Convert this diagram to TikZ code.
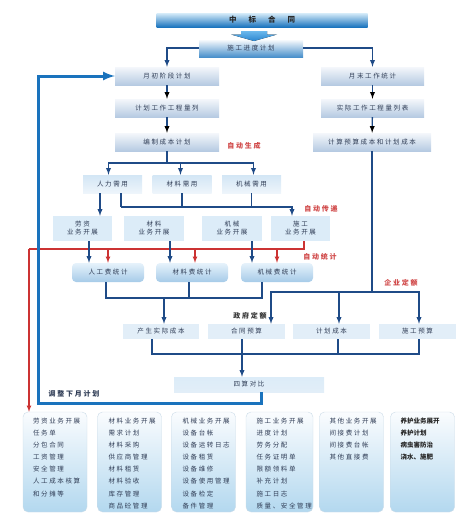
\documentclass[tikz,border=0pt]{standalone}
\usepackage{fontspec}
\setmainfont{Noto Sans CJK SC}
\newfontfamily\cjk[LetterSpace=25]{Noto Sans CJK SC}
\usetikzlibrary{positioning}

\definecolor{flowblue}{HTML}{1F4B87}
\definecolor{flowred}{HTML}{CC3333}
\definecolor{backblue}{HTML}{1A73BD}
\definecolor{txtgray}{HTML}{2F3C55}
\definecolor{bartop}{HTML}{D6ECF9}
\definecolor{barbot}{HTML}{1B74BE}
\definecolor{arrtop}{HTML}{6BB8EC}
\definecolor{arrbot}{HTML}{2A86D0}
\definecolor{plantop}{HTML}{F4F7FB}
\definecolor{planbot}{HTML}{B6CAE2}
\definecolor{needtop}{HTML}{D3E6F5}
\definecolor{needbot}{HTML}{EEF5FB}
\definecolor{workfill}{HTML}{DCECF8}
\definecolor{stattop}{HTML}{E6F2FB}
\definecolor{statbot}{HTML}{A6CBE8}
\definecolor{costfill}{HTML}{E2EEF8}
\definecolor{listtop}{HTML}{FAFCFE}
\definecolor{listbot}{HTML}{B3D8EF}
\definecolor{listedge}{HTML}{CCDCE8}
\definecolor{labred}{HTML}{D04848}

\tikzset{
  boxtext/.style={font=\cjk\fontsize{6.5}{8}\selectfont, text=txtgray, inner sep=0pt, align=center},
  barbox/.style={boxtext, top color=bartop, bottom color=barbot},
  planbox/.style={boxtext, top color=plantop, bottom color=planbot, minimum width=104pt, minimum height=18pt},
  needbox/.style={boxtext, top color=needtop, bottom color=needbot, minimum width=59pt, minimum height=18pt},
  workbox/.style={boxtext, fill=workfill, minimum width=60pt, minimum height=25pt},
  statbox/.style={boxtext, rounded corners=4pt, top color=stattop, bottom color=statbot, minimum width=72pt, minimum height=19pt},
  costbox/.style={boxtext, fill=costfill, minimum width=77pt, minimum height=15pt},
  listbox/.style={rounded corners=5pt, draw=listedge, top color=listtop, bottom color=listbot, minimum width=64pt, minimum height=100pt},
  listtext/.style={boxtext, align=left, anchor=north west, font=\cjk\fontsize{6.5}{12.1}\selectfont},
  flow/.style={draw=flowblue, line width=1.3pt},
  redflow/.style={draw=flowred, line width=1.1pt},
  note/.style={font=\cjk\bfseries\fontsize{7}{8}\selectfont, text=labred, inner sep=0pt}
}

\begin{document}
\begin{tikzpicture}[x=1pt, y=-1pt]
\useasboundingbox (0,0) rectangle (476,530);

% contract and schedule

\node[barbox, minimum width=211pt, minimum height=14pt, font=\bfseries\fontsize{7.5}{8}\selectfont, text=black!85] (zbht) at (262,20) {中\hspace{12pt}标\hspace{12pt}合\hspace{12pt}同};
\node[barbox, top color=white, bottom color=barbot!80, minimum width=104pt, minimum height=18pt] (sgjd) at (251,48) {施工进度计划};
\fill[top color=arrtop, bottom color=arrbot] (241,31) -- (267,31) -- (267,34.5) -- (277,34.5) -- (254,41) -- (231,34.5) -- (241,34.5) -- cycle;

% left line of boxes

\node[planbox] (ycjd) at (167,76) {月初阶段计划};
\node[planbox] (jhgcl) at (167,108) {计划工作工程量列};
\node[planbox] (bzcb) at (167,142) {编制成本计划};

% right line of boxes

\node[planbox, minimum width=103pt] (ymgz) at (372.5,76) {月末工作统计};
\node[planbox, minimum width=103pt] (sjgcl) at (372.5,108) {实际工作工程量列表};
\node[planbox, minimum width=118pt] (jsys) at (372,142) {计算预算成本和计划成本};

% needs and business

\node[needbox] (rlxy) at (112.5,184) {人力需用};
\node[needbox] (clxy) at (182,184) {材料需用};
\node[needbox] (jxxy) at (251.5,184) {机械需用};

\node[workbox, minimum width=59pt] (lzyw) at (82.5,228.5) {劳资\\业务开展};
\node[workbox] (clyw) at (154,228.5) {材料\\业务开展};
\node[workbox] (jxyw) at (232,228.5) {机械\\业务开展};
\node[workbox, minimum width=59pt] (sgyw) at (300.5,228.5) {施工\\业务开展};

% statistics

\node[statbox] (rgtj) at (108,272.5) {人工费统计};
\node[statbox] (cltj) at (192,272.5) {材料费统计};
\node[statbox] (jxtj) at (277,272.5) {机械费统计};

% four costs

\node[costbox, minimum width=76pt] (scsj) at (161,331.5) {产生实际成本};
\node[costbox] (htys) at (246.5,331.5) {合同预算};
\node[costbox] (jhcb) at (331.5,331.5) {计划成本};
\node[costbox] (sgys) at (417.5,331.5) {施工预算};
\node[costbox, minimum width=150pt, fill=none, top color=workfill, bottom color=costfill] (sscb) at (249,384.5) {四算对比};

% bottom lists

\node[listbox] (lzlist) at (55,462) {};
\node[listbox] (cllist) at (129.5,462) {};
\node[listbox] (jxlist) at (203.5,462) {};
\node[listbox, minimum width=67pt] (sglist) at (279.5,462) {};
\node[listbox] (qtlist) at (351.5,462) {};
\node[listbox] (yhlist) at (422.5,462) {};

\node[listtext] at ([xshift=10pt, yshift=-6pt]lzlist.north west) {劳资业务开展\\任务单\\分包合同\\工资管理\\安全管理\\人工成本核算\\和分摊等};
\node[listtext] at ([xshift=11pt, yshift=-6pt]cllist.north west) {材料业务开展\\需求计划\\材料采购\\供应商管理\\材料租赁\\材料验收\\库存管理\\商品砼管理};
\node[listtext] at ([xshift=11pt, yshift=-6pt]jxlist.north west) {机械业务开展\\设备台帐\\设备运转日志\\设备租赁\\设备维修\\设备使用管理\\设备检定\\备件管理};
\node[listtext] at ([xshift=10.5pt, yshift=-6pt]sglist.north west) {施工业务开展\\进度计划\\劳务分配\\任务证明单\\限额领料单\\补充计划\\施工日志\\质量、安全管理};
\node[listtext] at ([xshift=10pt, yshift=-6pt]qtlist.north west) {其他业务开展\\间接费计划\\间接费台帐\\其他直接费};
\node[listtext, text=black!85, font=\bfseries\fontsize{6.5}{12.1}\selectfont] at ([xshift=10pt, yshift=-6pt]yhlist.north west) {养护业务展开\\养护计划\\病虫害防治\\浇水、施肥};

% labels

\node[note] (zdsc) at (244,146) {自动生成};
\node[note] (zdcd) at (321,209) {自动传递};
\node[note] (zdtj) at (320,257) {自动统计};
\node[note] (qyde) at (401,283) {企业定额};
\node[note, text=black!80] (zfde) at (250,316) {政府定额};
\node[note, text=txtgray] (tzxy) at (74,394) {调整下月计划};

% arrows

\draw[flow, -latex] (sgjd.west) -| (ycjd.north);
\draw[flow, -latex] (sgjd.east) -| (ymgz.north);

\draw[flow, -latex]
    (ycjd) edge (jhgcl)
    (jhgcl) edge (bzcb)
    (ymgz) edge (sjgcl)
    (sjgcl) edge (jsys);

\node [coordinate] (bzpoint) at (167,163) {};
\draw[flow] (bzcb) -- (bzpoint);
\draw[flow, -latex] (bzpoint) -| ([xshift=-4pt]rlxy.north);
\draw[flow, -latex] (bzpoint) -| ([xshift=-1.5pt]clxy.north);
\draw[flow, -latex] (bzpoint) -| ([xshift=2pt]jxxy.north);

\draw[flow, -latex] ([xshift=-12.5pt]rlxy.south) -- ([xshift=17.5pt]lzyw.north);
\node [coordinate] (rlpoint) at (121,207) {};
\draw[flow] ([xshift=8.5pt]rlxy.south) -- (rlpoint);
\draw[flow, -latex] (rlpoint) -| ([xshift=-8.5pt]sgyw.north);
\draw[flow] (clxy.south) -- (clxy.south |- rlpoint);
\draw[flow] (jxxy.south) -- (jxxy.south |- rlpoint);

% red line to statistics and lists
\node [coordinate] (redpoint) at (29,249) {};
\draw[redflow] ([xshift=3.5pt]sgyw.south) |- (redpoint);
\draw[redflow, -latex] (redpoint) -- ([xshift=-26pt]lzlist.north);
\draw[redflow, -latex] (rgtj.north |- redpoint) -- (rgtj.north);
\draw[redflow, -latex] ([xshift=3pt]cltj.north) ++(0,-14) -- ([xshift=3pt]cltj.north);
\draw[redflow, -latex] (jxtj.north |- redpoint) -- (jxtj.north);

\draw[flow, -latex] ([xshift=6.5pt]lzyw.south) -- ([xshift=-19pt]rgtj.north);
\draw[flow, -latex] ([xshift=16pt]clyw.south) -- ([xshift=-22pt]cltj.north);
\draw[flow, -latex] ([xshift=20pt]jxyw.south) -- ([xshift=-25pt]jxtj.north);

\node [coordinate] (tjpoint) at (164,298) {};
\draw[flow] ([xshift=-2pt]rgtj.south) |- (tjpoint);
\draw[flow] ([xshift=-15pt]jxtj.south) |- (tjpoint);
\draw[flow] ([xshift=-3pt]cltj.south) -- ++(0,16.5);
\draw[flow, -latex] (tjpoint) -- ([xshift=3pt]scsj.north);

\node [coordinate] (yspoint) at (372,292) {};
\draw[flow] (jsys) -- (yspoint);
\draw[flow, -latex] (yspoint) -| ([xshift=24.5pt]htys.north);
\draw[flow, -latex] (yspoint) -| ([xshift=7.5pt]jhcb.north);
\draw[flow, -latex] (yspoint) -| ([xshift=1.5pt]sgys.north);

\node [coordinate] (sspoint) at (242,354) {};
\draw[flow] ([xshift=-9pt]scsj.south) |- (sspoint);
\draw[flow] ([xshift=1.5pt]sgys.south) |- (sspoint);
\draw[flow] ([xshift=6.5pt]jhcb.south) -- ++(0,15);
\draw[flow] ([xshift=-4.5pt]htys.south) -- (sspoint);
\draw[flow, -latex] (sspoint) -- (sspoint |- sscb.north);

% back to next month
\node [coordinate] (backpoint) at (38,403) {};
\draw[draw=backblue, line width=3pt, -latex] ([xshift=12pt]sscb.south) |- (backpoint) |- (ycjd.west);

\end{tikzpicture}
\end{document}
